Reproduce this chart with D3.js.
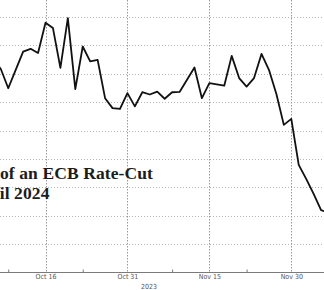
<!DOCTYPE html>
<html>
<head>
<meta charset="utf-8">
<script src="https://cdn.jsdelivr.net/npm/d3@7"></script>
<style>
  html, body { margin: 0; padding: 0; background: #fff; }
  svg { display: block; }
</style>
</head>
<body>
<svg id="chart" width="324" height="290"></svg>
<script>
// ---- data (business days, 2023) ----
const dates = [
  "2023-10-05","2023-10-06","2023-10-09","2023-10-10","2023-10-11","2023-10-12","2023-10-13",
  "2023-10-16","2023-10-17","2023-10-18","2023-10-19","2023-10-20",
  "2023-10-23","2023-10-24","2023-10-25","2023-10-26","2023-10-27",
  "2023-10-30","2023-10-31","2023-11-01","2023-11-02","2023-11-03",
  "2023-11-06","2023-11-07","2023-11-08","2023-11-09","2023-11-10",
  "2023-11-13","2023-11-14","2023-11-15","2023-11-16","2023-11-17",
  "2023-11-20","2023-11-21","2023-11-22","2023-11-23","2023-11-24",
  "2023-11-27","2023-11-28","2023-11-29","2023-11-30","2023-12-01",
  "2023-12-04","2023-12-05","2023-12-06","2023-12-07"
];
const values = [
  74.9, 71.7, 64.9, 71.4, 77.8, 78.8, 77.3,
  88.0, 86.1, 72.1, 89.6, 64.6,
  79.6, 74.4, 74.9, 61.4, 57.9,
  57.6, 63.2, 58.5, 63.5, 62.7,
  63.7, 61.2, 63.5, 63.6, 67.9,
  72.2, 61.4, 66.7, 66.3, 65.8,
  76.3, 68.5, 65.5, 68.5, 77.0,
  71.4, 62.9, 52.0, 54.1, 37.9,
  33.0, 27.7, 22.0, 21.0
];
const majorTickDates = ["2023-10-16","2023-10-31","2023-11-15","2023-11-30"];
const majorTickLabels = ["Oct 16","Oct 31","Nov 15","Nov 30"];
const minorTickDates = ["2023-10-09","2023-10-23","2023-11-08","2023-11-22"];
const yearLabel = "2023";
const yTicks = [10, 20, 30, 40, 50, 60, 70, 80, 90];
const titleLines = ["Odds of an ECB Rate-Cut", "by April 2024"];

// ---- layout ----
const svg = d3.select("#chart");
const W = 324, H = 290;
const axisY = 272.5;
const topY = 17;

const step = 7.448;
const i0 = dates.indexOf("2023-10-16");
const xStart = 45.5 - i0 * step;
const xEnd = xStart + (dates.length - 1) * step;

const x = d3.scalePoint().domain(dates).range([xStart, xEnd]).padding(0);
const y = d3.scaleLinear().domain([0, 90]).range([axisY, topY]);

const gridColor = "#b4b4b4";

// horizontal grid
svg.append("g").selectAll("line")
  .data(yTicks).join("line")
  .attr("x1", 0).attr("x2", W)
  .attr("y1", d => Math.round(y(d)) + 0.5)
  .attr("y2", d => Math.round(y(d)) + 0.5)
  .attr("stroke", gridColor)
  .attr("stroke-width", 1)
  .attr("stroke-dasharray", "1,2");

// vertical grid
svg.append("g").selectAll("line")
  .data(majorTickDates).join("line")
  .attr("x1", d => Math.round(x(d)) + 0.5)
  .attr("x2", d => Math.round(x(d)) + 0.5)
  .attr("y1", 0).attr("y2", axisY)
  .attr("stroke", "#999")
  .attr("stroke-width", 1)
  .attr("stroke-dasharray", "1.5,1.5");

// title (overlay)
const title = svg.append("g")
  .attr("font-family", "'Liberation Serif', 'Times New Roman', serif")
  .attr("font-weight", "bold")
  .attr("font-size", 17.5)
  .attr("letter-spacing", 0.1)
  .attr("fill", "#1c1c1c")
  .attr("text-anchor", "end");
title.append("text").attr("x", 153).attr("y", 178.5).text(titleLines[0]);
title.append("text").attr("x", 49.5).attr("y", 199).text(titleLines[1]);

// line
const line = d3.line()
  .x((d, i) => x(dates[i]))
  .y(d => y(d));
svg.append("path")
  .datum(values)
  .attr("d", line)
  .attr("fill", "none")
  .attr("stroke", "#111")
  .attr("stroke-width", 1.8)
  .attr("stroke-linejoin", "round");

// axis line
svg.append("line")
  .attr("x1", 0).attr("x2", W).attr("y1", axisY).attr("y2", axisY)
  .attr("stroke", "#7a7a7a").attr("stroke-width", 1);

// minor ticks
const minor = svg.append("g")
  .attr("transform", "translate(0," + axisY + ")")
  .call(d3.axisBottom(x).tickValues(minorTickDates).tickSize(-3).tickFormat(""));
minor.select(".domain").remove();
minor.selectAll(".tick line").attr("stroke", "#7a7a7a");

// major labels
const labels = svg.append("g")
  .attr("transform", "translate(0," + axisY + ")")
  .call(d3.axisBottom(x).tickValues(majorTickDates).tickSize(0).tickPadding(2)
    .tickFormat(d => majorTickLabels[majorTickDates.indexOf(d)]));
labels.select(".domain").remove();
labels.selectAll("text")
  .attr("font-family", "'DejaVu Sans Condensed', 'DejaVu Sans', sans-serif")
  .attr("font-size", 7)
  .attr("fill", "#555");

svg.append("text")
  .attr("x", 149).attr("y", 289)
  .attr("text-anchor", "middle")
  .attr("font-family", "'DejaVu Sans Condensed', 'DejaVu Sans', sans-serif")
  .attr("font-size", 7)
  .attr("fill", "#555")
  .text(yearLabel);
</script>
</body>
</html>
